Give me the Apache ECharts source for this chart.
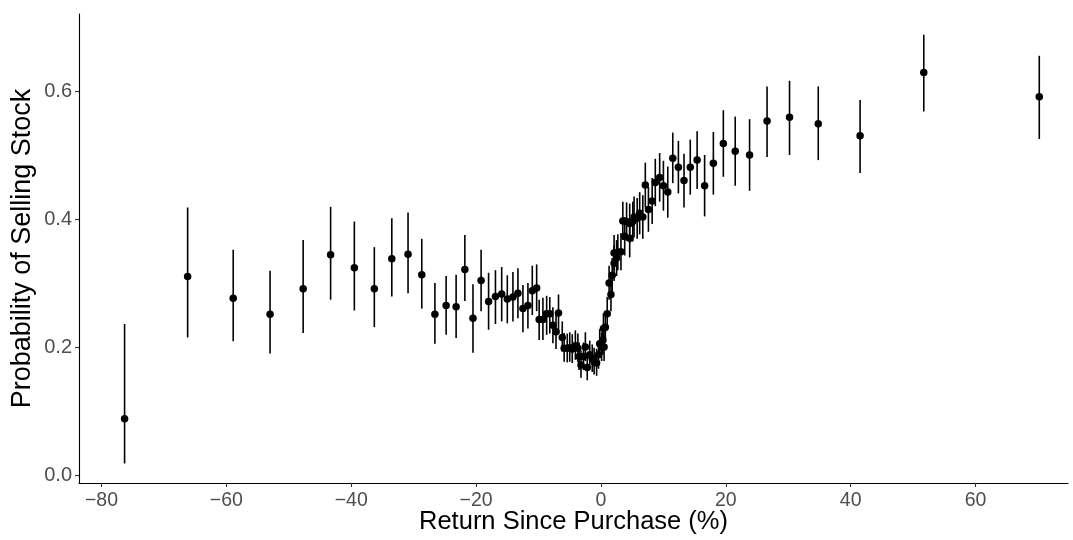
<!DOCTYPE html>
<html>
<head>
<meta charset="utf-8">
<script src="https://cdn.jsdelivr.net/npm/echarts@6/dist/echarts.min.js"></script>
<style>
html,body{margin:0;padding:0;background:#fff;}
#chart{width:1073px;height:540px;}
</style>
</head>
<body>
<div id="chart"></div>
<script>
// Return since purchase (%)
const xs = [-76.3,-66.2,-58.9,-53.0,-47.7,-43.3,-39.5,-36.3,-33.5,-30.9,-28.7,-26.6,-24.8,-23.2,-21.8,-20.5,-19.2,-18.0,-16.9,-15.9,-15.0,-14.1,-13.3,-12.5,-11.7,-11.0,-10.3,-9.9,-9.3,-8.7,-8.2,-7.7,-7.2,-6.8,-6.2,-5.9,-5.4,-5.0,-4.6,-4.1,-3.7,-3.5,-3.2,-2.8,-2.5,-2.2,-1.8,-1.4,-1.1,-0.7,-0.4,-0.2,0.1,0.3,0.5,0.4,0.7,1.0,1.3,1.6,1.8,2.1,2.1,2.5,2.7,3.2,3.5,3.8,4.1,4.6,4.6,5.1,5.3,5.8,6.2,6.7,7.1,7.6,8.2,8.7,9.4,10.0,10.7,11.5,12.4,13.3,14.3,15.4,16.6,18.0,19.6,21.5,23.8,26.6,30.2,34.8,41.5,51.7,70.2];
// Probability of selling (point estimate)
const ys = [0.088,0.310,0.276,0.251,0.291,0.344,0.324,0.291,0.338,0.345,0.313,0.251,0.265,0.263,0.321,0.245,0.304,0.271,0.279,0.283,0.275,0.278,0.284,0.260,0.265,0.288,0.292,0.243,0.243,0.252,0.252,0.234,0.224,0.253,0.215,0.198,0.198,0.199,0.197,0.202,0.198,0.185,0.172,0.185,0.200,0.168,0.188,0.182,0.177,0.175,0.188,0.205,0.200,0.211,0.200,0.229,0.231,0.252,0.300,0.282,0.312,0.331,0.347,0.339,0.348,0.349,0.397,0.373,0.396,0.370,0.393,0.396,0.403,0.401,0.409,0.403,0.453,0.415,0.428,0.457,0.465,0.452,0.442,0.495,0.481,0.460,0.481,0.492,0.452,0.487,0.518,0.506,0.500,0.553,0.559,0.549,0.530,0.629,0.591];
// Lower bound of interval
const lo = [0.018,0.215,0.209,0.190,0.222,0.274,0.257,0.231,0.279,0.284,0.260,0.205,0.219,0.214,0.272,0.191,0.256,0.227,0.236,0.240,0.237,0.240,0.245,0.223,0.229,0.250,0.256,0.211,0.211,0.219,0.221,0.206,0.197,0.221,0.193,0.177,0.176,0.177,0.175,0.180,0.176,0.164,0.152,0.164,0.178,0.148,0.167,0.161,0.157,0.155,0.166,0.183,0.178,0.188,0.178,0.205,0.207,0.226,0.274,0.256,0.285,0.303,0.319,0.311,0.320,0.320,0.367,0.343,0.366,0.340,0.362,0.365,0.371,0.369,0.376,0.369,0.418,0.380,0.392,0.420,0.427,0.413,0.402,0.456,0.440,0.418,0.438,0.447,0.404,0.438,0.466,0.452,0.444,0.497,0.500,0.492,0.472,0.568,0.525];
// Upper bound of interval
const hi = [0.236,0.418,0.352,0.319,0.367,0.419,0.396,0.356,0.401,0.410,0.369,0.300,0.311,0.313,0.375,0.298,0.352,0.316,0.320,0.325,0.312,0.317,0.323,0.297,0.300,0.327,0.329,0.274,0.277,0.280,0.278,0.262,0.250,0.282,0.240,0.222,0.221,0.223,0.220,0.226,0.221,0.207,0.194,0.207,0.223,0.189,0.210,0.204,0.199,0.197,0.210,0.228,0.223,0.235,0.223,0.253,0.256,0.278,0.327,0.309,0.339,0.359,0.375,0.367,0.376,0.378,0.427,0.403,0.426,0.400,0.424,0.427,0.435,0.433,0.442,0.437,0.488,0.450,0.464,0.494,0.503,0.491,0.482,0.535,0.522,0.502,0.524,0.537,0.500,0.536,0.570,0.560,0.556,0.607,0.616,0.607,0.586,0.688,0.655];

const xTicks = [-80,-60,-40,-20,0,20,40,60];
const yTicks = [0,0.2,0.4,0.6];

const pts = xs.map((x,i)=>[x, ys[i]]);
const bars = xs.map((x,i)=>[x, lo[i], hi[i]]);

const chart = echarts.init(document.getElementById('chart'), null, {renderer:'canvas'});
const FONT = '"Liberation Sans", Arial, sans-serif';
chart.setOption({
  animation:false,
  backgroundColor:'#ffffff',
  grid:{left:79, right:5, top:14, bottom:57, containLabel:false, outerBoundsMode:'none'},
  xAxis:{
    type:'value', min:-83.6, max:74.8,
    name:'Return Since Purchase (%)', nameLocation:'middle', nameGap:26, nameMoveOverlap:false,
    nameTextStyle:{color:'#000', fontSize:25.5, fontFamily:FONT, verticalAlign:'top'},
    axisLine:{show:true, onZero:false, lineStyle:{color:'#000', width:1.1}},
    axisTick:{show:true, length:4, customValues:xTicks, lineStyle:{color:'#333', width:1.1}},
    axisLabel:{show:true, margin:8, customValues:xTicks, color:'#4D4D4D', fontSize:19.5, fontFamily:FONT,
      formatter:v=> (v<0 ? '\u2212'+Math.abs(v) : String(v))},
    splitLine:{show:false}
  },
  yAxis:{
    type:'value', min:-0.0125, max:0.7203,
    name:'Probability of Selling Stock', nameLocation:'middle', nameGap:43, nameRotate:90, nameMoveOverlap:false,
    nameTextStyle:{color:'#000', fontSize:27, fontFamily:FONT},
    axisLine:{show:true, onZero:false, lineStyle:{color:'#000', width:1.1}},
    axisTick:{show:true, length:4, customValues:yTicks, lineStyle:{color:'#333', width:1.1}},
    axisLabel:{show:true, margin:7, customValues:yTicks, color:'#4D4D4D', fontSize:20, fontFamily:FONT,
      formatter:v=> v.toFixed(1)},
    splitLine:{show:false}
  },
  series:[
    {
      type:'custom',
      data:bars,
      renderItem:(params, api)=>{
        const x = api.value(0);
        const p1 = api.coord([x, api.value(1)]);
        const p2 = api.coord([x, api.value(2)]);
        return {type:'line', shape:{x1:p1[0], y1:p1[1], x2:p2[0], y2:p2[1]},
          style:{stroke:'#000', lineWidth:1.6}};
      },
      z:2
    },
    {
      type:'scatter',
      data:pts,
      symbol:'circle',
      symbolSize:7.5,
      itemStyle:{color:'#000', opacity:1},
      z:3
    }
  ]
});
</script>
</body>
</html>
